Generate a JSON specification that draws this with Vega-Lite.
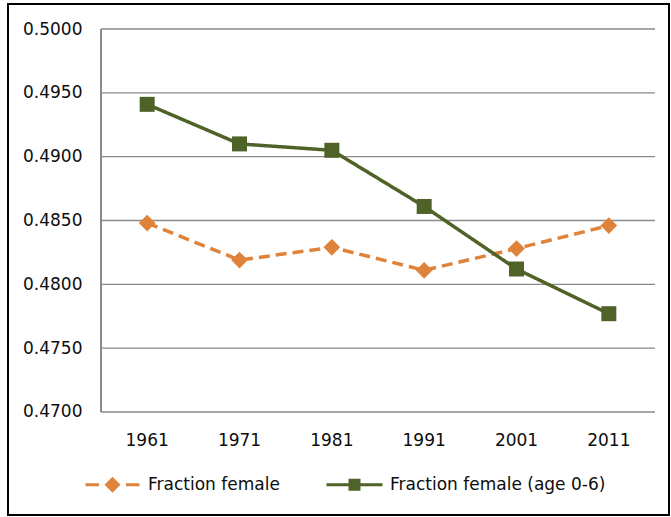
{
  "$schema": "https://vega.github.io/schema/vega-lite/v6.json",
  "width": 661,
  "height": 511,
  "autosize": {"type": "none"},
  "padding": {"left": 8, "top": 4, "right": 2, "bottom": 2},
  "background": "white",
  "config": {
    "view": {"stroke": "#000000", "strokeWidth": 2},
    "font": "DejaVu Sans",
    "axisX": {"offset": -103, "domain": false, "ticks": false, "tickSize": 0, "grid": false, "labelAngle": 0, "labelPadding": 20, "labelFont": "DejaVu Sans", "labelFontSize": 17, "labelColor": "#0d0d0d"},
    "axisY": {"offset": -93, "domain": false, "ticks": false, "tickSize": 0, "grid": false, "labelPadding": 19, "labelFont": "DejaVu Sans", "labelFontSize": 17, "labelColor": "#0d0d0d"},
    "legend": {
      "title": null, "orient": "none", "direction": "horizontal",
      "legendX": 96, "legendY": 472,
      "symbolSize": 100, "symbolOpacity": 1, "symbolStrokeWidth": 0,
      "labelOffset": 27, "columnPadding": 46, "labelLimit": 400,
      "labelFont": "DejaVu Sans", "labelFontSize": 17, "labelColor": "#0d0d0d"
    }
  },
  "resolve": {"scale": {"shape": "independent", "color": "independent"}},
  "datasets": {
    "series": [
      {"year": "1961", "series": "Fraction female", "value": 0.4848},
      {"year": "1971", "series": "Fraction female", "value": 0.4819},
      {"year": "1981", "series": "Fraction female", "value": 0.4829},
      {"year": "1991", "series": "Fraction female", "value": 0.4811},
      {"year": "2001", "series": "Fraction female", "value": 0.4828},
      {"year": "2011", "series": "Fraction female", "value": 0.4846},
      {"year": "1961", "series": "Fraction female (age 0-6)", "value": 0.4941},
      {"year": "1971", "series": "Fraction female (age 0-6)", "value": 0.4910},
      {"year": "1981", "series": "Fraction female (age 0-6)", "value": 0.4905},
      {"year": "1991", "series": "Fraction female (age 0-6)", "value": 0.4861},
      {"year": "2001", "series": "Fraction female (age 0-6)", "value": 0.4812},
      {"year": "2011", "series": "Fraction female (age 0-6)", "value": 0.4777}
    ],
    "grid": [
      {"value": 0.470}, {"value": 0.475}, {"value": 0.480}, {"value": 0.485},
      {"value": 0.490}, {"value": 0.495}, {"value": 0.500}
    ]
  },
  "encoding": {
    "x": {
      "field": "year", "type": "ordinal", "title": null,
      "scale": {"type": "band", "domain": ["1961", "1971", "1981", "1991", "2001", "2011"], "paddingInner": 0, "paddingOuter": 0.5795, "align": 0.8692}
    },
    "y": {
      "field": "value", "type": "quantitative", "title": null,
      "scale": {"domain": [0.46193, 0.50196], "nice": false, "zero": false},
      "axis": {"values": [0.470, 0.475, 0.480, 0.485, 0.490, 0.495, 0.500], "format": ".4f"}
    }
  },
  "layer": [
    {
      "data": {"name": "grid"},
      "mark": {"type": "rule", "color": "#8a8a8a", "strokeWidth": 1.4},
      "encoding": {
        "x": {"datum": "1961", "bandPosition": 0},
        "x2": {"datum": "2011", "bandPosition": 1}
      }
    },
    {
      "data": {"name": "grid"},
      "mark": {"type": "rule", "color": "#8a8a8a", "strokeWidth": 1.4},
      "encoding": {
        "x": {"datum": "1961", "bandPosition": 0},
        "y": {"datum": 0.470},
        "y2": {"datum": 0.500}
      }
    },
    {
      "data": {"name": "series"},
      "mark": {"type": "line", "strokeWidth": 3.5},
      "encoding": {
        "color": {"field": "series", "type": "nominal", "legend": null,
          "scale": {"domain": ["Fraction female", "Fraction female (age 0-6)"], "range": ["#e0833a", "#4f6228"]}},
        "strokeDash": {"field": "series", "type": "nominal", "legend": null,
          "scale": {"domain": ["Fraction female", "Fraction female (age 0-6)"], "range": [[11, 6], [1, 0]]}}
      }
    },
    {
      "data": {"name": "series"},
      "mark": {"type": "point", "filled": true, "opacity": 1},
      "encoding": {
        "shape": {"field": "series", "type": "nominal", "legend": null,
          "scale": {"domain": ["Fraction female", "Fraction female (age 0-6)"], "range": ["diamond", "square"]}},
        "size": {"field": "series", "type": "nominal", "legend": null,
          "scale": {"domain": ["Fraction female", "Fraction female (age 0-6)"], "range": [280, 225]}},
        "color": {"field": "series", "type": "nominal", "legend": null,
          "scale": {"domain": ["Fraction female", "Fraction female (age 0-6)"], "range": ["#e0833a", "#4f6228"]}}
      }
    },
    {
      "data": {"name": "series"},
      "mark": {"type": "point", "filled": true, "opacity": 0},
      "encoding": {
        "shape": {"field": "series", "type": "nominal",
          "scale": {"domain": ["Fraction female", "Fraction female (age 0-6)"],
            "range": ["M-5.4,-0.32H-2.7V0.32H-5.4Z M2.7,-0.32H5.4V0.32H2.7Z M0,-1.6L1.6,0L0,1.6L-1.6,0Z", "M-5.6,-0.32H5.6V0.32H-5.6Z M-1.2,-1.2H1.2V1.2H-1.2Z"]},
          "legend": {}},
        "color": {"field": "series", "type": "nominal",
          "scale": {"domain": ["Fraction female", "Fraction female (age 0-6)"], "range": ["#e0833a", "#4f6228"]},
          "legend": {}}
      }
    }
  ]
}
